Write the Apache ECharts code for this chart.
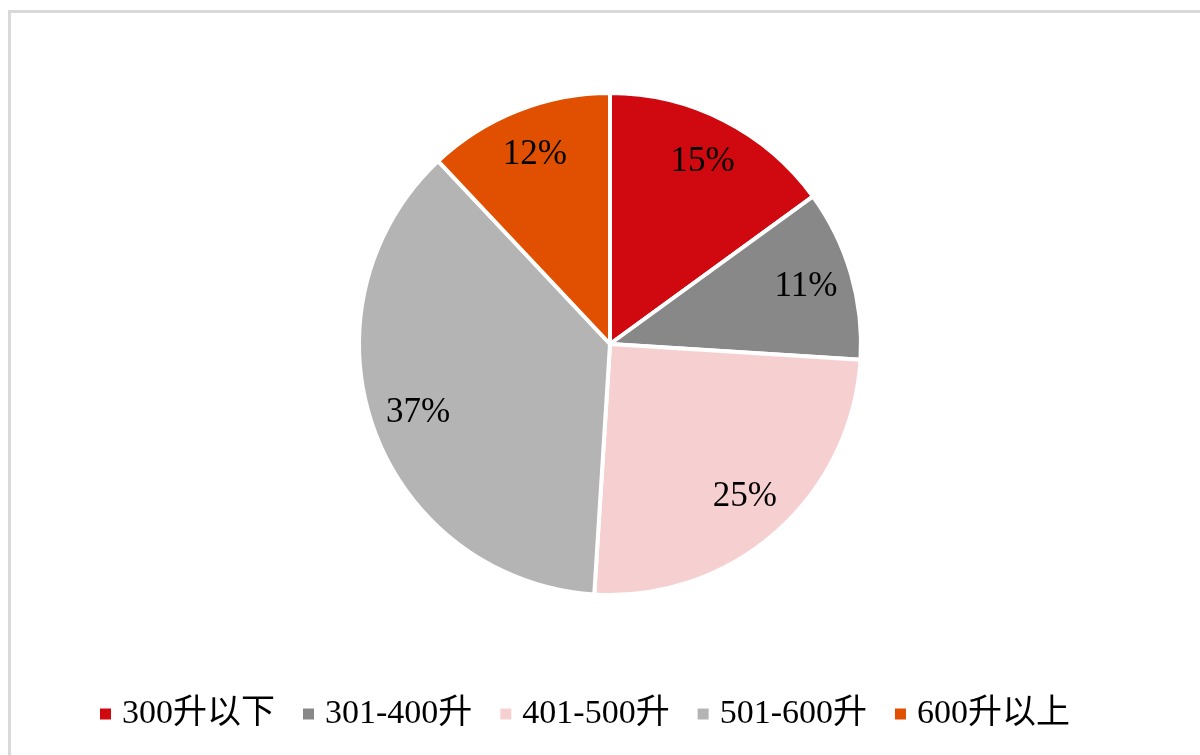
<!DOCTYPE html>
<html>
<head>
<meta charset="utf-8">
<script src="https://cdn.jsdelivr.net/npm/echarts@6/dist/echarts.min.js"></script>
<style>
html,body{margin:0;padding:0;background:#fff;}
#chart{width:1200px;height:755px;}
</style>
</head>
<body>
<div id="chart"></div>
<script>
const categories = ['300升以下', '301-400升', '401-500升', '501-600升', '600升以上'];
const values = [15, 11, 25, 37, 12];
const colors = ['#d0080f', '#888888', '#f6d0d1', '#b4b4b4', '#e05000'];

const chart = echarts.init(document.getElementById('chart'));
const pieData = categories.map((c, i) => ({ name: c, value: values[i], itemStyle: { color: colors[i] } }));
const labelData = categories.map((c, i) => ({ name: c, value: values[i] }));
const font = '"Liberation Serif", "Times New Roman", "Noto Sans CJK SC", serif';

chart.setOption({
  backgroundColor: '#ffffff',
  animation: false,
  graphic: [{
    type: 'rect',
    shape: { x: 9.5, y: 11.5, width: 1300, height: 900 },
    style: { fill: 'none', stroke: '#d9d9d9', lineWidth: 3 },
    silent: true
  }],
  legend: {
    data: categories,
    left: 93,
    top: 692,
    itemWidth: 13,
    itemHeight: 13,
    itemGap: 26,
    icon: 'rect',
    textStyle: { fontFamily: font, fontSize: 34, color: '#000', padding: [0, 0, 0, 5] }
  },
  series: [{
    type: 'pie',
    center: [610, 344],
    radius: [0, 251],
    startAngle: 90,
    clockwise: true,
    silent: true,
    label: { show: false },
    labelLine: { show: false },
    itemStyle: { borderColor: '#ffffff', borderWidth: 4 },
    data: pieData
  }, {
    type: 'pie',
    center: [610, 344],
    radius: [151, 251],
    startAngle: 90,
    clockwise: true,
    silent: true,
    itemStyle: { color: 'rgba(0,0,0,0)' },
    label: {
      show: true,
      position: 'inside',
      formatter: p => p.value + '%',
      fontFamily: font,
      fontSize: 35,
      color: '#000'
    },
    labelLine: { show: false },
    data: labelData
  }]
});
</script>
</body>
</html>
